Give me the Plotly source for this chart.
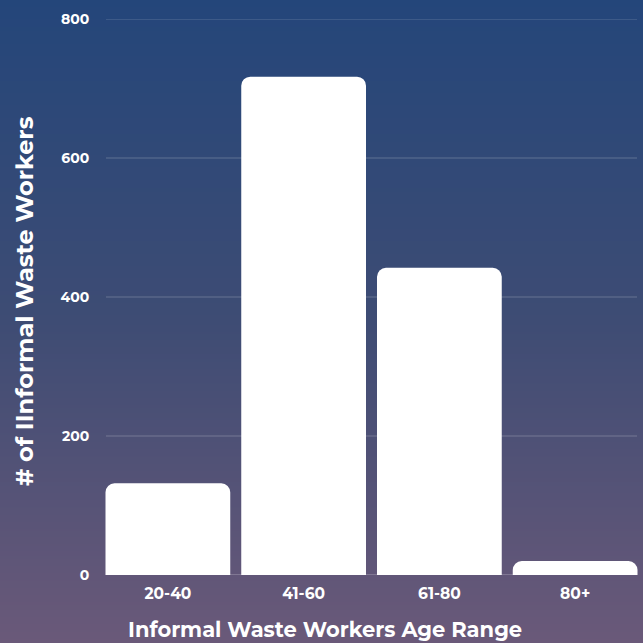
import base64, struct, zlib
import plotly.graph_objects as go

categories = ["20-40", "41-60", "61-80", "80+"]
workers = [132, 717, 442, 20]
y_ticks = [0, 200, 400, 600, 800]

W, H = 643, 643
ML, MR, MT, MB = 100, 0, 19, 68
PW, PH = W - ML - MR, H - MT - MB
top_rgb = (36, 70, 122)
mid_rgb = (62, 76, 116)
bot_rgb = (106, 89, 121)


def gradient_png(h):
    rows = b""
    for i in range(h):
        t = i / (h - 1)
        if t < 0.5:
            a, b, u = top_rgb, mid_rgb, t / 0.5
        else:
            a, b, u = mid_rgb, bot_rgb, (t - 0.5) / 0.5
        c = bytes(int(round(a[k] + (b[k] - a[k]) * u)) for k in range(3))
        rows += b"\x00" + c * 4
    def chunk(tag, data):
        return struct.pack(">I", len(data)) + tag + data + struct.pack(">I", zlib.crc32(tag + data) & 0xffffffff)
    png = b"\x89PNG\r\n\x1a\n"
    png += chunk(b"IHDR", struct.pack(">IIBBBBB", 4, h, 8, 2, 0, 0, 0))
    png += chunk(b"IDAT", zlib.compress(rows))
    png += chunk(b"IEND", b"")
    return "data:image/png;base64," + base64.b64encode(png).decode()


font_family = "Montserrat, 'Open Sans', sans-serif"

fig = go.Figure(
    go.Bar(
        x=categories,
        y=workers,
        marker=dict(color="white", line=dict(width=0)),
        hoverinfo="x+y",
    )
)

gx0 = 6 / PW
gx1 = 1 - 6 / PW
shapes = []
for v in y_ticks:
    shapes.append(dict(
        type="line", xref="paper", yref="y",
        x0=gx0, x1=gx1, y0=v, y1=v,
        line=dict(color="rgba(255,255,255,0.22)" if v else "rgba(255,255,255,0.4)", width=1),
        layer="below",
    ))

fig.update_layout(
    width=W,
    height=H,
    margin=dict(l=ML, r=MR, t=MT, b=MB),
    paper_bgcolor="rgba(0,0,0,0)",
    plot_bgcolor="rgba(0,0,0,0)",
    bargap=0.081,
    barcornerradius=9,
    showlegend=False,
    font=dict(family=font_family, color="white"),
    shapes=shapes,
    images=[
        dict(
            source=gradient_png(H),
            xref="paper", yref="paper",
            x=-ML / PW, y=1 + MT / PH,
            sizex=W / PW, sizey=H / PH,
            xanchor="left", yanchor="top",
            sizing="stretch",
            layer="below",
        )
    ],
    xaxis=dict(
        showgrid=False,
        tickfont=dict(size=15.5, family=font_family, color="white", weight="bold"),
        ticks="outside",
        ticklen=4,
        tickcolor="rgba(0,0,0,0)",
        showline=False,
        zeroline=False,
    ),
    yaxis=dict(
        range=[0, 800],
        tickvals=y_ticks,
        showgrid=False,
        zeroline=False,
        tickfont=dict(size=14, family=font_family, color="white", weight="bold"),
        ticks="outside",
        ticklen=7,
        tickcolor="rgba(0,0,0,0)",
    ),
    annotations=[
        dict(
            text="<b>Informal Waste Workers Age Range</b>",
            xref="paper", yref="paper",
            x=(324.5 - ML) / PW, y=-(629 - MT - PH) / PH,
            xanchor="center", yanchor="middle",
            showarrow=False,
            font=dict(size=21, color="white", family=font_family),
        ),
        dict(
            text="<b># of IInformal Waste Workers</b>",
            xref="paper", yref="paper",
            x=(24 - ML) / PW, y=1 - (301 - MT) / PH,
            xanchor="center", yanchor="middle",
            textangle=-90,
            showarrow=False,
            font=dict(size=24, color="white", family=font_family),
        ),
    ],
)

fig.write_html("out.html")
